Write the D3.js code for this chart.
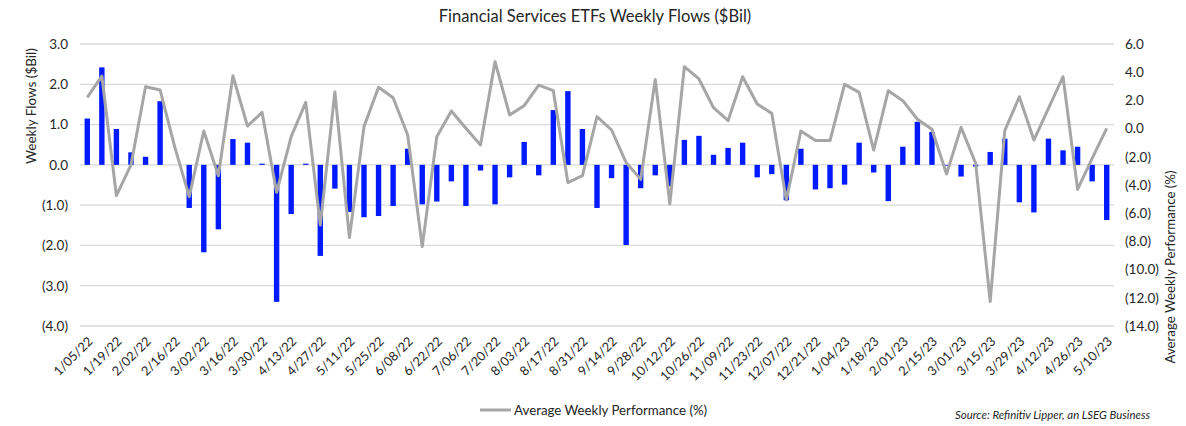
<!DOCTYPE html>
<head>
  <meta charset="utf-8">
  <style>
    body { margin: 0; background: #fff; }
    svg text { font-family: Lato, "Open Sans", sans-serif; fill: #262626; }
    svg .grid { stroke: #D9D9D9; stroke-width: 1.3px; }
    svg .bar { fill: #001AFF; }
    svg .perf { stroke: #A6A6A6; stroke-width: 3px; fill: none; stroke-linejoin: round; }
  </style>
</head>

<body>
<script src="https://cdn.jsdelivr.net/npm/d3@7"></script>

<script>
  // weeks (Wednesdays)
  var weeks = [
    "1/05/22","1/12/22","1/19/22","1/26/22","2/02/22","2/09/22","2/16/22","2/23/22",
    "3/02/22","3/09/22","3/16/22","3/23/22","3/30/22","4/06/22","4/13/22","4/20/22",
    "4/27/22","5/04/22","5/11/22","5/18/22","5/25/22","6/01/22","6/08/22","6/15/22",
    "6/22/22","6/29/22","7/06/22","7/13/22","7/20/22","7/27/22","8/03/22","8/10/22",
    "8/17/22","8/24/22","8/31/22","9/07/22","9/14/22","9/21/22","9/28/22","10/05/22",
    "10/12/22","10/19/22","10/26/22","11/02/22","11/09/22","11/16/22","11/23/22","11/30/22",
    "12/07/22","12/14/22","12/21/22","12/28/22","1/04/23","1/11/23","1/18/23","1/25/23",
    "2/01/23","2/08/23","2/15/23","2/22/23","3/01/23","3/08/23","3/15/23","3/22/23",
    "3/29/23","4/05/23","4/12/23","4/19/23","4/26/23","5/03/23","5/10/23"
  ];

  // weekly flows, $Bil
  var flows = [
    1.15, 2.42, 0.89, 0.31, 0.20, 1.58, 0.00, -1.07, -2.17, -1.60, 0.64, 0.55,
    0.03, -3.40, -1.22, 0.03, -2.26, -0.59, -1.17, -1.30, -1.27, -1.02, 0.40, -0.98,
    -0.91, -0.41, -1.02, -0.14, -0.98, -0.31, 0.57, -0.26, 1.36, 1.83, 0.89, -1.07,
    -0.33, -1.99, -0.58, -0.26, -0.53, 0.62, 0.72, 0.25, 0.42, 0.55, -0.31, -0.23,
    -0.88, 0.40, -0.61, -0.58, -0.49, 0.55, -0.19, -0.90, 0.45, 1.07, 0.82, -0.02,
    -0.29, -0.04, 0.32, 0.65, -0.93, -1.18, 0.65, 0.36, 0.45, -0.41, -1.37
  ];

  // average weekly performance, %
  var perf = [
    2.22, 3.73, -4.76, -2.58, 2.97, 2.74, -1.28, -4.83, -0.17, -3.34, 3.75, 0.18,
    1.15, -4.52, -0.57, 1.86, -6.84, 2.60, -7.73, 0.14, 2.93, 2.19, -0.45, -8.37,
    -0.57, 1.25, 0.02, -1.16, 4.75, 0.96, 1.63, 3.09, 2.69, -3.83, -3.34, 0.85,
    -0.10, -2.41, -3.60, 3.49, -5.34, 4.39, 3.52, 1.48, 0.56, 3.68, 1.75, 1.08,
    -5.06, -0.17, -0.85, -0.85, 3.14, 2.57, -1.52, 2.69, 1.98, 0.66, -0.05, -3.22,
    0.09, -2.46, -12.27, -0.15, 2.26, -0.81, 1.44, 3.68, -4.31, -2.11, 0.02
  ];

  var leftTicks  = [-4, -3, -2, -1, 0, 1, 2, 3];
  var rightTicks = [-14, -12, -10, -8, -6, -4, -2, 0, 2, 4, 6];

  var width = 1186, height = 426;
  var plot = { left: 80, right: 1114, top: 44, bottom: 326 };

  var svg = d3.select("body")
    .append("svg")
      .attr("width", width)
      .attr("height", height);

  // scales
  var xScale = d3.scaleBand()
    .domain(weeks)
    .range([plot.left, plot.right])
    .paddingInner(0.63)
    .paddingOuter(0.315);
  var yLeft = d3.scaleLinear().domain([-4, 3]).range([plot.bottom, plot.top]);
  var yRight = d3.scaleLinear().domain([-14, 6]).range([plot.bottom, plot.top]);

  function fmt(v) {
    return v < 0 ? "(" + Math.abs(v).toFixed(1) + ")" : v.toFixed(1);
  }

  // horizontal grid lines on the left ticks
  svg.append("g")
    .selectAll("line")
    .data(leftTicks)
    .join("line")
      .classed("grid", true)
      .attr("x1", plot.left)
      .attr("x2", plot.right)
      .attr("y1", function (d) { return yLeft(d); })
      .attr("y2", function (d) { return yLeft(d); });

  // left axis
  var leftAxis = svg.append("g")
      .attr("transform", "translate(" + (plot.left - 12) + ",0)")
      .call(d3.axisLeft(yLeft).tickValues(leftTicks).tickFormat(fmt).tickSize(0).tickPadding(0));
  leftAxis.select(".domain").remove();
  leftAxis.selectAll(".tick text")
      .style("font-size", "13.5px")
      .style("font-family", "Lato, sans-serif")
      .attr("fill", function (d) { return d < 0 ? "#FF0000" : "#262626"; });

  // right axis
  var rightAxis = svg.append("g")
      .attr("transform", "translate(" + (plot.right + 11) + ",0)")
      .call(d3.axisRight(yRight).tickValues(rightTicks).tickFormat(fmt).tickSize(0).tickPadding(0));
  rightAxis.select(".domain").remove();
  rightAxis.selectAll(".tick text")
      .style("font-size", "13.5px")
      .style("font-family", "Lato, sans-serif")
      .attr("fill", function (d) { return d < 0 ? "#FF0000" : "#262626"; });

  // bars
  svg.append("g")
    .selectAll("rect")
    .data(flows)
    .join("rect")
      .classed("bar", true)
      .attr("x", function (d, i) { return xScale(weeks[i]); })
      .attr("width", xScale.bandwidth())
      .attr("y", function (d) { return yLeft(Math.max(0, d)); })
      .attr("height", function (d) { return Math.abs(yLeft(d) - yLeft(0)); });

  // performance line
  var perfLine = d3.line()
    .x(function (d, i) { return xScale(weeks[i]) + xScale.bandwidth() / 2; })
    .y(function (d) { return yRight(d); });

  svg.append("path")
      .classed("perf", true)
      .attr("d", perfLine(perf));

  // x labels, every other week
  svg.append("g")
    .selectAll("text")
    .data(weeks.filter(function (d, i) { return i % 2 === 0; }))
    .join("text")
      .attr("transform", function (d) {
        var x = xScale(d) + xScale.bandwidth() / 2 + 3;
        return "translate(" + x + ",339) rotate(-45)";
      })
      .attr("dy", "0.35em")
      .style("text-anchor", "end")
      .style("font-size", "12.8px")
      .text(function (d) { return d; });

  // title
  svg.append("text")
      .attr("x", 595)
      .attr("y", 22)
      .style("text-anchor", "middle")
      .style("font-size", "16.5px")
      .text("Financial Services ETFs Weekly Flows ($Bil)");

  // axis titles
  svg.append("text")
      .attr("transform", "translate(36,106) rotate(-90)")
      .style("text-anchor", "middle")
      .style("font-size", "13.5px")
      .text("Weekly Flows ($Bil)");

  svg.append("text")
      .attr("transform", "translate(1175,267) rotate(-90)")
      .style("text-anchor", "middle")
      .style("font-size", "13.3px")
      .text("Average Weekly Performance (%)");

  // legend
  svg.append("line")
      .attr("x1", 480)
      .attr("x2", 511)
      .attr("y1", 410)
      .attr("y2", 410)
      .style("stroke", "#A6A6A6")
      .style("stroke-width", "3px");

  svg.append("text")
      .attr("x", 514)
      .attr("y", 415)
      .style("font-size", "13.3px")
      .text("Average Weekly Performance (%)");

  // source note
  svg.append("text")
      .attr("x", 1150)
      .attr("y", 419)
      .style("text-anchor", "end")
      .style("font-size", "11.4px")
      .style("font-style", "italic")
      .text("Source: Refinitiv Lipper, an LSEG Business");
</script>
</body>
</html>
